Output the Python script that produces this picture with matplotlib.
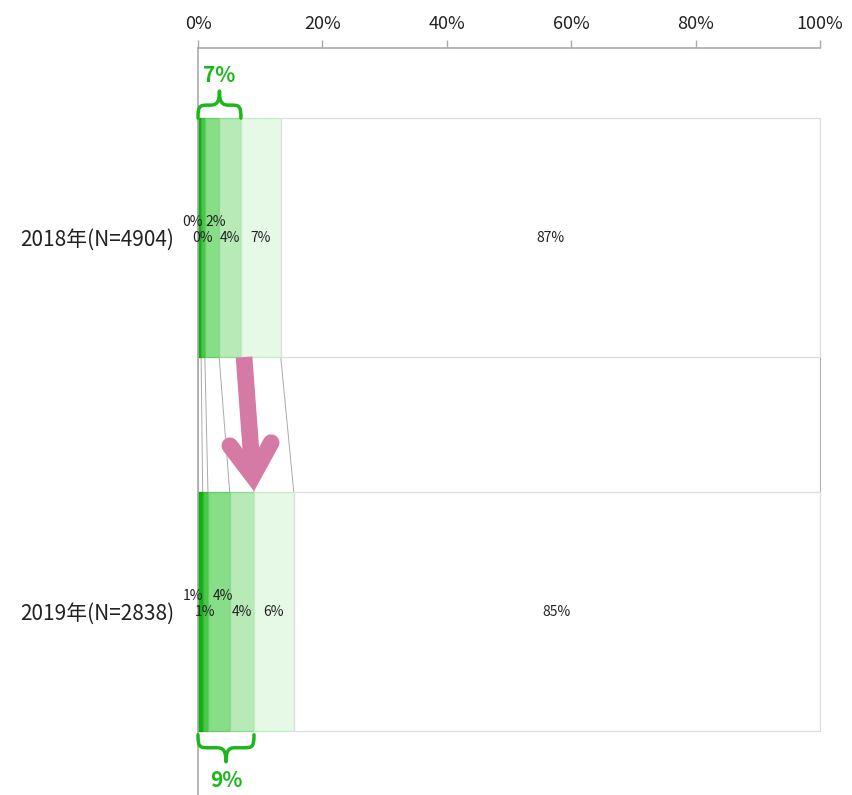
import numpy as np
import matplotlib
matplotlib.use('Agg')
import matplotlib.pyplot as plt
from matplotlib.path import Path
from matplotlib.patches import PathPatch

plt.rcParams['font.family'] = ['Noto Sans CJK JP', 'DejaVu Sans']

# --- dados ---
anos = ['2018年(N=4904)', '2019年(N=2838)']
valores_2018 = [0.5, 0.6, 2.3, 3.5, 6.4, 86.7]
valores_2019 = [0.75, 0.85, 3.5, 3.9, 6.4, 84.6]
rotulos_2018 = ['0%', '0%', '2%', '4%', '7%', '87%']
rotulos_2019 = ['1%', '1%', '4%', '4%', '6%', '85%']
chaves = ['7%', '9%']
cores = ['#0db40d', '#48ca48', '#88dd88', '#b7eab7', '#e6f8e6', '#ffffff']
bordas = ['#0aa00a', '#38b838', '#66cc66', '#8fd88f', '#c5ecc5', '#dddddd']
verde = '#1ab81a'
rosa = '#d47aa5'

valores = [valores_2018, valores_2019]
rotulos = [rotulos_2018, rotulos_2019]
altura = 0.639

fig = plt.figure(figsize=(8.52, 7.95), dpi=100)
ax = fig.add_axes([198 / 852, 0, 622 / 852, 747 / 795])
ax.set_xlim(0, 100)
ax.set_ylim(1.4906, -0.507)

for i, vals in enumerate(valores):
    esq = np.concatenate([[0], np.cumsum(vals)[:-1]])
    barras = ax.barh(i, vals, left=esq, height=altura, color=cores, edgecolor=bordas,
                     linewidth=0.9, zorder=2)
    for b in barras:
        b.set_clip_on(False)
    for j, (v, l, txt) in enumerate(zip(vals, esq, rotulos[i])):
        cx = l + v / 2
        if j in (0, 2):
            dx = -5 if j == 0 else 3
            ax.annotate(txt, (cx, i), xytext=(dx, 11), textcoords='offset points',
                        ha='center', va='center', fontsize=10, color='#222222', zorder=5)
        else:
            ax.annotate(txt, (cx, i), xytext=(0, 0), textcoords='offset points',
                        ha='center', va='center', fontsize=10, color='#222222', zorder=5)

# linhas de ligação entre as barras
cum18 = np.concatenate([[0], np.cumsum(valores_2018)])
cum19 = np.concatenate([[0], np.cumsum(valores_2019)])
for a, b in zip(cum18, cum19):
    ax.plot([a, b], [altura / 2, 1 - altura / 2], color='#aaaaaa', lw=0.7, zorder=1,
            clip_on=False)

fig.canvas.draw()
inv = ax.transData.inverted()


def chave(x0, x1, yb, s, txt, ytxt):
    # desenhada em pixels (s=+1 para cima, -1 para baixo)
    a = ax.transData.transform((x0, yb))
    b = ax.transData.transform((x1, yb))
    px0, px1, py = a[0], b[0], a[1]
    pm = (px0 + px1) / 2
    r, rc = 11, 9
    ym = py + s * 13
    yt = py + s * 27
    verts = [(px0, py),
             (px0, ym), (px0 + 2, ym), (px0 + r, ym),
             (pm - rc, ym),
             (pm - rc * 0.3, ym), (pm, ym + s * 3), (pm, yt),
             (pm, ym + s * 3), (pm + rc * 0.3, ym), (pm + rc, ym),
             (px1 - r, ym),
             (px1 - 2, ym), (px1, ym), (px1, py)]
    codes = [Path.MOVETO,
             Path.CURVE4, Path.CURVE4, Path.CURVE4, Path.LINETO,
             Path.CURVE4, Path.CURVE4, Path.CURVE4,
             Path.CURVE4, Path.CURVE4, Path.CURVE4, Path.LINETO,
             Path.CURVE4, Path.CURVE4, Path.CURVE4]
    verts = inv.transform(np.array(verts))
    ax.add_patch(PathPatch(Path(verts, codes), fill=False, edgecolor=verde, lw=2.5,
                           capstyle='round', joinstyle='round', clip_on=False, zorder=4))
    ax.text((x0 + x1) / 2, ytxt, txt, ha='center', va='center', fontsize=15,
            fontweight='bold', color=verde, clip_on=False)


chave(0, cum18[4], -altura / 2, 1, chaves[0], -0.4345)
chave(0, cum19[4], 1 + altura / 2 + 0.01, -1, chaves[1], 1.452)

# seta
p0 = ax.transData.transform((cum18[4] + 0.5, altura / 2))
p1 = ax.transData.transform((cum19[4], 1 - altura / 2 - 0.003))
d = (p1 - p0) / np.linalg.norm(p1 - p0)
vert = p1 - d * 15
braco = []
for ang in (33, -33):
    t = np.radians(ang)
    r = np.array([[np.cos(t), -np.sin(t)], [np.sin(t), np.cos(t)]]) @ d
    braco.append(vert - r * 38)
s0 = inv.transform(p0)
s1 = inv.transform(vert - d * 4)
ax.plot([s0[0], s1[0]], [s0[1], s1[1]], color=rosa, lw=12, solid_capstyle='butt', zorder=6)
pts = inv.transform(np.array([braco[0], vert, braco[1]]))
ax.plot(pts[:, 0], pts[:, 1], color=rosa, lw=12, solid_capstyle='round',
        solid_joinstyle='miter', zorder=6)

# eixos
ax.xaxis.tick_top()
ax.set_xticks(np.arange(0, 101, 20))
ax.set_xticklabels([f'{v}%' for v in range(0, 101, 20)], fontsize=13, color='#222222')
ax.tick_params(axis='x', length=6, width=1, color='#aaaaaa', pad=5)
ax.set_yticks([0, 1])
ax.set_yticklabels(anos, fontsize=15, color='#222222')
ax.tick_params(axis='y', length=0, pad=17)
for lado in ['right', 'bottom']:
    ax.spines[lado].set_visible(False)
for lado in ['top', 'left']:
    ax.spines[lado].set_color('#aaaaaa')
    ax.spines[lado].set_linewidth(1.2)

plt.savefig('out.png', dpi=100)
